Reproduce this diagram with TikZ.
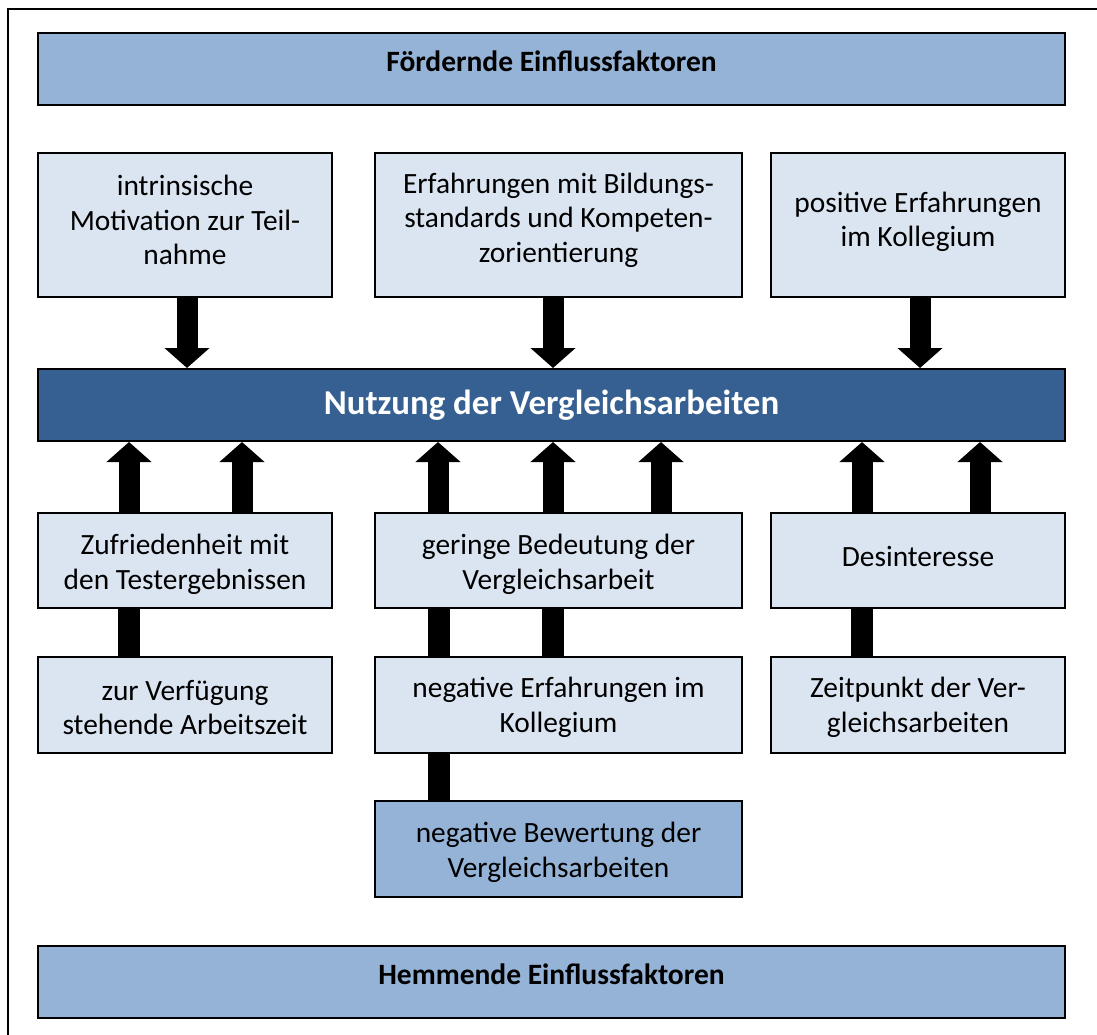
\documentclass[tikz,border=0pt]{standalone}
\usepackage{fontspec}
\setmainfont{Carlito}
\usetikzlibrary{arrows.meta,calc}
\definecolor{headfill}{RGB}{149,179,215}
\definecolor{lightfill}{RGB}{219,229,241}
\definecolor{mainfill}{RGB}{54,96,146}
\tikzset{
  box/.style={draw=black, line width=2pt, inner sep=0pt},
  lbox/.style={box, fill=lightfill},
  dbox/.style={box, fill=headfill},
  headbox/.style={box, fill=headfill, minimum width=1027, minimum height=72},
  txt/.style={inner sep=0pt, align=center, font=\fontsize{29.4}{34.5}\selectfont},
  headtxt/.style={inner sep=0pt, font=\fontsize{29.5}{34}\selectfont\bfseries},
  bigarrow/.style={line width=21pt, -{Triangle[width=44pt,length=20pt]}},
  linkbar/.style={line width=22pt}
}
\begin{document}
\begin{tikzpicture}[x=1pt,y=-1pt]
\useasboundingbox (0,0) rectangle (1097,1034);
% outer frame (only top and left edges lie inside the page)
\draw[line width=1.5pt] (8,1040) -- (8,9) -- (1100,9);

% headers
\node[headbox] (top) at (551.5,69) {};
\node[headtxt, yshift=7.5pt] (topt) at (top) {Fördernde Einflussfaktoren};
\node[headbox] (bot) at (551.5,981.5) {};
\node[headtxt, yshift=7pt] (bott) at (bot) {Hemmende Einflussfaktoren};

% promoting factors
\node[lbox, minimum width=294, minimum height=144] (f1) at (185,225) {};
\node[txt, yshift=5pt] (f1t) at (f1) {intrinsische\\Motivation zur Teil-\\nahme};
\node[lbox, minimum width=367, minimum height=144] (f2) at (558.5,225) {};
\node[txt, yshift=5pt] (f2t) at (f2)
  {Erfahrungen mit Bildungs-\\standards und Kompeten-\\zorientierung};
\node[lbox, minimum width=294, minimum height=144] (f3) at (918,225) {};
\node[txt, yshift=3pt] (f3t) at (f3) {positive Erfahrungen\\im Kollegium};

% central bar
\node[box, fill=mainfill, minimum width=1027, minimum height=72] (main) at (551.5,405) {};
\node[inner sep=0pt, text=white, font=\fontsize{34.9}{40}\selectfont\bfseries]
  (maint) at (main) {Nutzung der Vergleichsarbeiten};

% inhibiting factors, first row
\node[lbox, minimum width=294, minimum height=95] (h1) at (185,560.5) {};
\node[txt, yshift=-4pt] (h1t) at (h1) {Zufriedenheit mit\\den Testergebnissen};
\node[lbox, minimum width=367, minimum height=95] (h2) at (558.5,560.5) {};
\node[txt, yshift=-4pt] (h2t) at (h2) {geringe Bedeutung der\\Vergleichsarbeit};
\node[lbox, minimum width=294, minimum height=95] (h3) at (918,560.5) {};
\node[txt, yshift=4pt] (h3t) at (h3) {Desinteresse};

% second row
\node[lbox, minimum width=294, minimum height=96] (g1) at (185,704.5) {};
\node[txt, yshift=-3pt] (g1t) at (g1) {zur Verfügung\\stehende Arbeitszeit};
\node[lbox, minimum width=367, minimum height=96] (g2) at (558.5,704.5) {};
\node[txt, yshift=-3pt] (g2t) at (g2) {negative Erfahrungen im\\Kollegium};
\node[lbox, minimum width=294, minimum height=96] (g3) at (918,704.5) {};
\node[txt, yshift=-3pt] (g3t) at (g3) {Zeitpunkt der Ver-\\gleichsarbeiten};

% third row
\node[dbox, minimum width=367, minimum height=96] (n1) at (558.5,849) {};
\node[txt, yshift=-3.5pt] (n1t) at (n1) {negative Bewertung der\\Vergleichsarbeiten};

% arrows into the central bar
\draw[bigarrow] ([xshift=2pt]f1.south) -- ([xshift=2pt]f1.south |- main.north);
\draw[bigarrow] ([xshift=-5.5pt]f2.south) -- ([xshift=-5.5pt]f2.south |- main.north);
\draw[bigarrow] ([xshift=2pt]f3.south) -- ([xshift=2pt]f3.south |- main.north);

\draw[bigarrow] ([xshift=-56pt]h1.north) -- ([xshift=-56pt]h1.north |- main.south);
\draw[bigarrow] ([xshift=57pt]h1.north) -- ([xshift=57pt]h1.north |- main.south);
\draw[bigarrow] ([xshift=-120.5pt]h2.north) -- ([xshift=-120.5pt]h2.north |- main.south);
\draw[bigarrow] ([xshift=-5.5pt]h2.north) -- ([xshift=-5.5pt]h2.north |- main.south);
\draw[bigarrow] ([xshift=102.5pt]h2.north) -- ([xshift=102.5pt]h2.north |- main.south);
\draw[bigarrow] ([xshift=-56pt]h3.north) -- ([xshift=-56pt]h3.north |- main.south);
\draw[bigarrow] ([xshift=62pt]h3.north) -- ([xshift=62pt]h3.north |- main.south);

% links between the inhibiting factors
\draw[linkbar] ([xshift=-56pt]g1.north) -- ([xshift=-56pt]g1.north |- h1.south);
\draw[linkbar] ([xshift=-119.5pt]g2.north) -- ([xshift=-119.5pt]g2.north |- h2.south);
\draw[linkbar] ([xshift=-6pt]g2.north) -- ([xshift=-6pt]g2.north |- h2.south);
\draw[linkbar] ([xshift=-56pt]g3.north) -- ([xshift=-56pt]g3.north |- h3.south);
\draw[linkbar] ([xshift=-119.5pt]n1.north) -- ([xshift=-119.5pt]n1.north |- g2.south);
\end{tikzpicture}
\end{document}
